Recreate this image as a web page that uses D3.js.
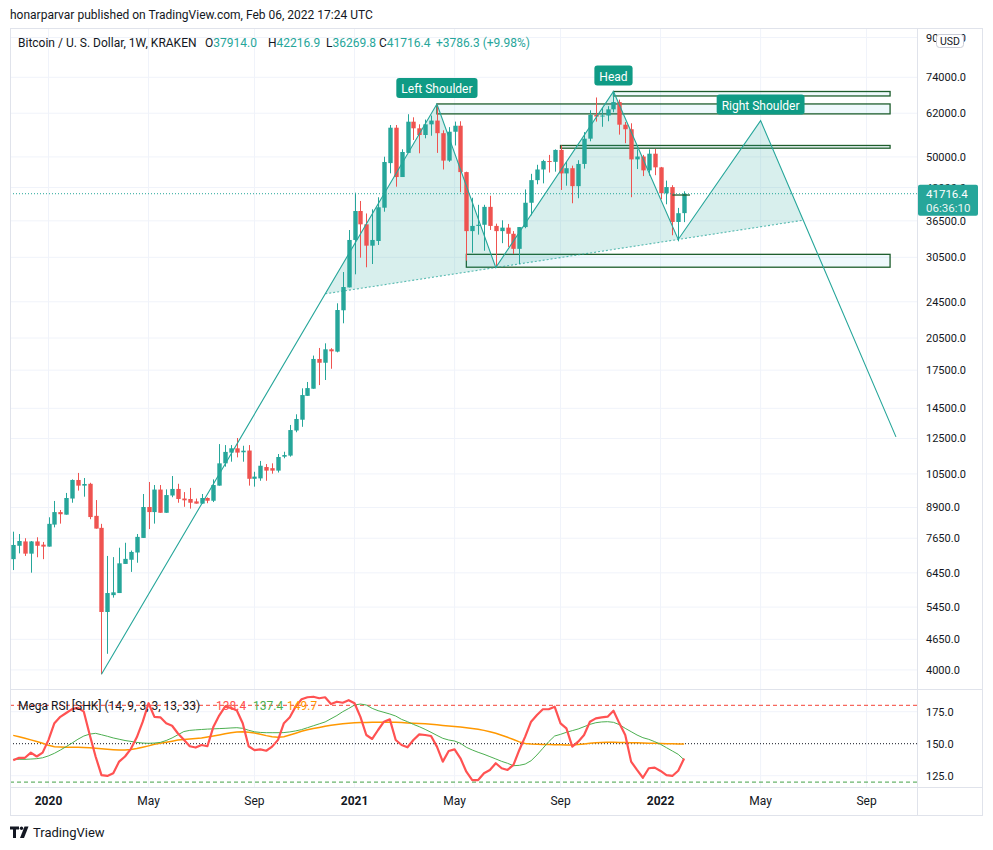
<!DOCTYPE html>
<html lang="en">
<head>
<meta charset="UTF-8">
<title>BTCUSD 1W</title>
<script src="https://cdnjs.cloudflare.com/ajax/libs/d3/7.8.5/d3.min.js"></script>
<style>
  body { margin: 0; background: #fff; }
  svg { display: block; font-family: Roboto, "Noto Sans", sans-serif; }
</style>
</head>
<body>
<svg width="993" height="850"></svg>
<script>
// weekly candles, first bar = week of 2019-11-25
const openP = [6900,7370,7530,7090,7530,7410,7340,8180,8700,8590,9300,10190,9910,10000,8540,8050,5320,5780,5840,6740,
  6880,7130,7660,8920,8700,9720,8670,9440,9750,9300,9280,9170,9070,9325,9200,9910,11060,11660,11910,11680,
  11780,10250,10270,10860,10800,10670,11430,11490,13000,13710,15420,15970,18490,18150,19390,19170,23500,26300,33220,38310,
  35880,32300,33050,38940,48500,57740,45290,51000,59470,57570,55700,58700,59800,56200,49100,56600,58300,46400,34700,35600,
  35800,39100,35600,34700,35300,34250,31800,35400,39900,44600,47000,49000,48800,51750,46100,47300,43300,48300,54700,61500,
  61000,61300,63200,65500,58600,57300,49400,50100,46800,50800,47500,41800,43100,36300,37914.0];
const highP = [7900,7810,7650,7545,7685,7510,8480,9190,8790,9560,10220,10550,10290,10050,9230,8210,7010,6970,7300,7480,
  7200,7810,9510,10090,9940,9940,9730,10390,10000,9600,9800,9300,9510,9350,10220,12160,12100,12100,12530,12060,
  12100,10610,11190,11020,11060,11580,11710,13360,14080,16000,16510,18800,19520,19970,19500,24320,28370,34890,41930,40250,
  37850,38640,40990,50050,58510,58510,51910,61700,60770,58710,60100,61300,64900,57000,57900,59500,59600,46500,40900,39500,
  39500,41300,36000,36600,35950,34700,35400,42600,46000,48100,49300,50500,51900,52900,48800,47900,49200,56500,62900,67000,
  63700,64200,69000,66300,59400,59000,51900,50500,51900,52000,47600,44500,43500,38900,42216.9];
const lowP = [6540,7100,7010,6456,6965,6900,7340,8070,8220,8590,9110,9670,9385,8400,8020,3915,4330,5710,5840,6740,
  6480,6780,7660,8000,8220,8670,8670,9360,9110,8930,8850,9070,9070,9090,9140,9910,10880,11150,11390,11150,
  9910,9860,10150,10150,10510,10570,11340,11430,12890,13240,15420,15970,16260,16670,17620,19100,22040,26300,28050,30440,
  29040,29510,32410,38180,46120,43180,45290,51000,54350,50900,54800,55500,51000,47000,48800,52900,42000,30000,31200,34100,
  31500,34900,29000,32700,32100,31000,29500,35200,37500,43700,43900,46300,46500,42500,43400,39800,40800,47200,54000,59500,
  58000,59600,62300,55800,53500,41000,47100,45500,45600,45700,40600,39600,34000,33000,36269.8];
const closeP = [7400,7545,7090,7530,7370,7340,8210,8700,8610,9325,10190,9910,9990,8490,8020,5320,5840,5860,6760,6910,
  7150,7700,8920,8700,9720,8670,9460,9750,9280,9220,9110,9070,9325,9200,9940,11060,11700,11910,11660,11770,
  10250,10360,10930,10670,10670,11410,11520,13030,13760,15480,16020,18490,18150,19390,19200,23530,26350,33220,38310,35880,
  32300,33220,39020,48770,57740,45290,51230,59470,57570,55700,58700,59800,56200,49100,56600,58300,46400,34700,35600,35800,
  39100,35600,34700,35300,34250,31800,35400,39900,44600,47000,49000,48800,51750,46100,47300,43300,48300,54700,61500,61000,
  61300,63200,65500,58600,57300,49400,50100,46800,50800,47500,41800,43100,36300,37900,41716.4];

// Mega RSI [SHK] and its two averages
const rsi = [137,139,139,143,140,143,153,166,171,174,177,178,175,157,140,125.5,124.8,127,136,140,
  146,155,167,181.6,171,170.6,166,164,158,153,148,147,149,148,163,172,179,178,176,166,
  148,145,145.6,144.5,147.7,153,166,170.6,179,184.7,186.3,186.7,185.5,186.3,181,182.8,182,184,181.6,171,
  156.8,153.7,160.7,167.2,169,152.9,149,147.2,152.9,157.3,156.8,156,147.7,136,144.3,145.6,138.6,128.1,121.6,121.6,
  126.9,129.5,134.7,130.8,129.5,133.4,145.1,155.5,167.2,172.4,176.9,176.9,178.9,165.9,162,147.7,151.6,156.8,167.2,169.8,
  170.6,171.1,175.8,165.9,156.8,136,129.5,123.4,130.8,131.3,128.7,125.5,124.8,128.9,138.4];
const rsiFast = [137.8,137.8,137.8,138,138.3,139,140.5,142.5,145,147.7,150.5,153.5,156,157.5,158.1,157,155.8,154.5,153.5,152.5,
  151.8,151,150.5,150.3,150.5,151,152.5,154.5,157,159.5,160.4,160.8,161.1,161.4,161.6,161.8,162,162.3,162.5,162,
  160.5,159.3,158.8,158.6,158.6,158.6,158.7,159.2,160,161,162.5,164,165.5,167,169.5,172,175,177.5,180.2,181,
  180.2,177.6,175.8,174.5,173.2,171.6,169,167.2,165.1,163.3,161.2,158.9,156.5,154.2,152.9,152.1,150.3,147.2,145.1,143.3,
  141.7,139.9,138.1,136.2,134.7,132.8,133.1,134.1,136.7,141.2,146.4,151.6,156,157.3,158.9,160.2,161.5,163.3,165.1,166.4,
  167,167.2,166.7,164.9,162,159.4,156.8,154.7,153.4,151.6,149.5,146.9,144.3,141.7,137.4];
const rsiSlow = [156.5,155.5,154.3,153,151.7,150.3,148.8,147.7,147.5,147.3,147.2,147.2,147.1,146.8,146.4,146,145.6,145.3,145.1,145.1,
  145.5,146.2,147.2,148.3,149.5,150.4,151.2,152,152.8,153.3,153.7,154,154.4,155.2,156,156.8,157.7,158.5,159.2,159.4,
  159,158.4,157.4,156.3,155.5,155,155.5,156.8,158.2,159.7,160.9,161.8,162.7,163.6,164.4,165,165.6,166,166.3,166.5,
  166.6,166.7,166.7,166.8,166.8,166.7,166.5,166.2,166,165.8,165.6,165.2,164.8,164.3,163.9,163.5,163,162.4,161.8,161.3,
  160.4,159.4,158.2,156.6,155,153.3,151.4,150.2,149.7,149.5,149.4,149.3,149.2,149.1,149,149,149.3,149.8,150.3,150.7,
  151,151.1,151.1,151,150.9,150.8,150.7,150.6,150.4,150.3,150.2,150,149.9,149.8,149.7];

const priceTicks = [90000,74000,62000,50000,43000,36500,30500,24500,20500,17500,14500,12500,10500,8900,7650,6450,5450,4650,4000];
const rsiTicks = [175,150,125];
const timeTicks = ["2020-01-06","2020-05-04","2020-09-07","2021-01-04","2021-05-03","2021-09-06","2022-01-03","2022-05-02","2022-09-05"];
const timeTickLabels = ["2020","May","Sep","2021","May","Sep","2022","May","Sep"];

// head & shoulders drawing: start, LS, trough, head, trough, RS, end
const patternDates = ["2020-03-09","2021-04-12","2021-06-21","2021-11-08","2022-01-24","2022-05-02","2022-10-10"];
const patternPrices = [3915,64900,29000,69000,33300,59800,12600];
const patternLabels = {1: "Left Shoulder", 3: "Head", 5: "Right Shoulder"};

// rectangles
const zoneFrom = ["2021-04-12","2021-11-08","2021-09-06","2021-05-17"];
const zoneTo = ["2022-10-03","2022-10-03","2022-10-03","2022-10-03"];
const zoneTop = [64900,69000,52900,30950];
const zoneBottom = [61800,67500,52200,29050];

const lastPrice = 41716.4;

const svg = d3.select("svg");
const parse = d3.utcParse("%Y-%m-%d");
const firstWeek = parse("2019-11-25");
const weeks = d3.range(openP.length).map(i => d3.utcDay.offset(firstWeek, 7 * i));

const L = 10, PR = 917, R = 982, T = 28, MB = 689, RT = 690, RB = 787, AB = 815;
const up = "#26a69a", down = "#ef5350", grid = "#f0f3fa", txt = "#131722";

const x = d3.scaleUtc().domain([firstWeek, weeks[weeks.length - 1]]).range([13.2, 684.1]);
const y = d3.scaleLog().domain([74000, 4000]).range([77.3, 669.9]);
const yr = d3.scaleLinear().domain([125, 175]).range([775.7, 711.7]);

const defs = svg.append("defs");
defs.append("clipPath").attr("id", "mainClip").append("rect").attr("x", L).attr("y", T).attr("width", PR - L).attr("height", MB - T);
defs.append("clipPath").attr("id", "rsiClip").append("rect").attr("x", L).attr("y", RT).attr("width", PR - L).attr("height", RB - RT);

// header
svg.append("text").attr("x", 10).attr("y", 18.5).attr("font-size", 12).attr("fill", txt)
  .text("honarparvar published on TradingView.com, Feb 06, 2022 17:24 UTC");

// grid
const tickDates = timeTicks.map(parse);
svg.append("g").selectAll("line").data(tickDates).join("line")
  .attr("x1", d => x(d)).attr("x2", d => x(d)).attr("y1", T).attr("y2", RB)
  .attr("stroke", grid);
svg.append("g").selectAll("line").data(priceTicks).join("line")
  .attr("x1", L).attr("x2", PR).attr("y1", d => y(d)).attr("y2", d => y(d))
  .attr("stroke", grid);
svg.append("g").selectAll("line").data([175, 125]).join("line")
  .attr("x1", L).attr("x2", PR).attr("y1", d => yr(d)).attr("y2", d => yr(d))
  .attr("stroke", grid);

const main = svg.append("g").attr("clip-path", "url(#mainClip)");

// rectangles
main.append("g").selectAll("rect").data(zoneTop).join("rect")
  .attr("x", (d, i) => x(parse(zoneFrom[i])))
  .attr("width", (d, i) => x(parse(zoneTo[i])) - x(parse(zoneFrom[i])))
  .attr("y", d => y(d))
  .attr("height", (d, i) => y(zoneBottom[i]) - y(d))
  .attr("fill", "rgba(100,200,230,0.1)")
  .attr("stroke", "#1e5e2c").attr("stroke-width", 1.3);

// head & shoulders geometry
const pts = patternDates.map((d, i) => [x(parse(d)), y(patternPrices[i])]);
function intersect(a, b, c, d) {
  const den = (a[0] - b[0]) * (c[1] - d[1]) - (a[1] - b[1]) * (c[0] - d[0]);
  const t = ((a[0] - c[0]) * (c[1] - d[1]) - (a[1] - c[1]) * (c[0] - d[0])) / den;
  return [a[0] + t * (b[0] - a[0]), a[1] + t * (b[1] - a[1])];
}
const neckStart = intersect(pts[0], pts[1], pts[2], pts[4]);
const neckEnd = intersect(pts[5], pts[6], pts[2], pts[4]);
const tris = [[neckStart, pts[1], pts[2]], [pts[2], pts[3], pts[4]], [pts[4], pts[5], neckEnd]];
main.append("g").selectAll("path").data(tris).join("path")
  .attr("d", d => "M" + d.join("L") + "Z")
  .attr("fill", "rgba(38,166,154,0.18)");

// candles
const candles = main.append("g").selectAll("g").data(weeks).join("g");
candles.append("line")
  .attr("x1", d => Math.round(x(d)) + 0.5).attr("x2", d => Math.round(x(d)) + 0.5)
  .attr("y1", (d, i) => y(highP[i])).attr("y2", (d, i) => y(lowP[i]))
  .attr("stroke", (d, i) => closeP[i] >= openP[i] ? up : down).attr("stroke-width", 1);
candles.append("rect")
  .attr("x", d => Math.round(x(d)) + 0.5 - 2.2).attr("width", 4.4)
  .attr("y", (d, i) => y(Math.max(openP[i], closeP[i])))
  .attr("height", (d, i) => Math.max(1, Math.abs(y(openP[i]) - y(closeP[i]))))
  .attr("fill", (d, i) => closeP[i] >= openP[i] ? up : down);

// pattern lines
main.append("path").attr("d", "M" + pts.join("L"))
  .attr("fill", "none").attr("stroke", up).attr("stroke-width", 1.1);
main.append("line")
  .attr("x1", neckStart[0]).attr("y1", neckStart[1]).attr("x2", neckEnd[0]).attr("y2", neckEnd[1])
  .attr("stroke", up).attr("stroke-width", 1.1).attr("stroke-dasharray", "2,2").attr("opacity", 0.75);

// short level near last bar
main.append("line")
  .attr("x1", x(parse("2022-01-17"))).attr("x2", x(parse("2022-02-07")))
  .attr("y1", y(41450)).attr("y2", y(41450))
  .attr("stroke", "#1e5e2c").attr("stroke-width", 1.3);

// pattern labels
Object.keys(patternLabels).forEach(k => {
  const p = pts[k];
  const g = main.append("g");
  const t = g.append("text").attr("x", p[0]).attr("y", p[1] - 11).attr("text-anchor", "middle")
    .attr("font-size", 12).attr("fill", "#fff").text(patternLabels[k]);
  const w = t.node().getComputedTextLength() + 10;
  g.insert("rect", "text").attr("x", p[0] - w / 2).attr("y", p[1] - 26).attr("width", w).attr("height", 20)
    .attr("rx", 3).attr("fill", "#0f9b85");
});

// last price line
main.append("line").attr("x1", L).attr("x2", PR).attr("y1", y(lastPrice)).attr("y2", y(lastPrice))
  .attr("stroke", up).attr("stroke-dasharray", "1,2");

// legend
const leg = svg.append("text").attr("y", 46.5).attr("font-size", 12).attr("fill", txt);
leg.append("tspan").attr("x", 18).text("Bitcoin / U. S. Dollar, 1W, KRAKEN");
const ohlc = [["O", "37914.0", 205], ["H", "42216.9", 268], ["L", "36269.8", 326], ["C", "41716.4", 379]];
ohlc.forEach(o => {
  leg.append("tspan").attr("x", o[2]).text(o[0]);
  leg.append("tspan").attr("fill", up).text(o[1]);
});
leg.append("tspan").attr("x", 436).attr("fill", up).text("+3786.3 (+9.98%)");

// RSI pane
const rsiG = svg.append("g").attr("clip-path", "url(#rsiClip)");
rsiG.append("line").attr("x1", L).attr("x2", PR).attr("y1", yr(180)).attr("y2", yr(180))
  .attr("stroke", "#f44336").attr("stroke-dasharray", "4,3");
rsiG.append("line").attr("x1", L).attr("x2", PR).attr("y1", yr(120)).attr("y2", yr(120))
  .attr("stroke", "#43a047").attr("stroke-dasharray", "4,3");
rsiG.append("line").attr("x1", L).attr("x2", PR).attr("y1", yr(150)).attr("y2", yr(150))
  .attr("stroke", "#131722").attr("stroke-dasharray", "1,2");
const rline = d3.line().x((d, i) => x(weeks[i])).y(d => yr(d)).curve(d3.curveLinear);
rsiG.append("path").attr("d", rline(rsiSlow)).attr("fill", "none").attr("stroke", "#ff9800").attr("stroke-width", 1.5);
rsiG.append("path").attr("d", rline(rsiFast)).attr("fill", "none").attr("stroke", "#4caf50").attr("stroke-width", 1);
rsiG.append("path").attr("d", rline(rsi)).attr("fill", "none").attr("stroke", "#ff5252").attr("stroke-width", 2.2)
  .attr("stroke-linejoin", "round");

const rleg = svg.append("text").attr("y", 710).attr("font-size", 12).attr("fill", txt);
rleg.append("tspan").attr("x", 18).text("Mega RSI [SHK] (14, 9, 3, 3, 13, 33)");
rleg.append("tspan").attr("x", 216).attr("fill", "#ff5252").text(rsi[rsi.length - 1].toFixed(1));
rleg.append("tspan").attr("x", 253).attr("fill", "#4caf50").text(rsiFast[rsiFast.length - 1].toFixed(1));
rleg.append("tspan").attr("x", 287).attr("fill", "#ff9800").text(rsiSlow[rsiSlow.length - 1].toFixed(1));

// frame and separators
svg.append("rect").attr("x", L + 0.5).attr("y", T + 0.5).attr("width", R - L).attr("height", AB - T)
  .attr("fill", "none").attr("stroke", "#e0e3eb");
svg.append("line").attr("x1", L).attr("x2", R).attr("y1", MB + 0.5).attr("y2", MB + 0.5).attr("stroke", "#e0e3eb");
svg.append("line").attr("x1", L).attr("x2", R).attr("y1", RB + 0.5).attr("y2", RB + 0.5).attr("stroke", "#e0e3eb");
svg.append("line").attr("x1", PR + 0.5).attr("x2", PR + 0.5).attr("y1", T).attr("y2", AB).attr("stroke", "#e0e3eb");

// price axis
svg.append("g").selectAll("text").data(priceTicks).join("text")
  .attr("x", 926).attr("y", d => y(d) + 4).attr("font-size", 11).attr("fill", txt)
  .text(d => d3.format(".1f")(d));
svg.append("g").selectAll("text").data(rsiTicks).join("text")
  .attr("x", 926).attr("y", d => yr(d) + 4).attr("font-size", 11).attr("fill", txt)
  .text(d => d3.format(".1f")(d));

// USD badge
svg.append("rect").attr("x", 936.5).attr("y", 34.5).attr("width", 27).attr("height", 13).attr("rx", 3)
  .attr("fill", "#fff").attr("stroke", "#c9ccd6");
svg.append("text").attr("x", 950).attr("y", 45).attr("text-anchor", "middle").attr("font-size", 10.5).attr("fill", txt).text("USD");

// price tag
const ty = y(lastPrice);
svg.append("rect").attr("x", PR + 1).attr("y", ty - 9).attr("width", 60).attr("height", 31).attr("rx", 2).attr("fill", up);
svg.append("text").attr("x", 926).attr("y", ty + 4).attr("font-size", 11.5).attr("fill", "#fff").text(lastPrice.toFixed(1));
svg.append("text").attr("x", 926).attr("y", ty + 18).attr("font-size", 11.5).attr("fill", "#fff").attr("opacity", 0.9).text("06:36:10");

// time axis
svg.append("g").selectAll("text").data(tickDates).join("text")
  .attr("x", d => x(d)).attr("y", 805).attr("text-anchor", "middle").attr("font-size", 12)
  .attr("font-weight", (d, i) => /^\d/.test(timeTickLabels[i]) ? "bold" : "normal")
  .attr("fill", txt).text((d, i) => timeTickLabels[i]);

// logo
const logo = svg.append("g").attr("fill", txt);
logo.append("path").attr("d", "M10,826.5h9v3h-3v8.5h-3v-8.5h-3z");
logo.append("circle").attr("cx", 21.5).attr("cy", 828.2).attr("r", 1.7);
logo.append("path").attr("d", "M24.5,826.5h4l-4.5,11.5h-4z");
svg.append("text").attr("x", 33).attr("y", 837).attr("font-size", 13).attr("fill", txt).text("TradingView");
</script>
</body>
</html>
